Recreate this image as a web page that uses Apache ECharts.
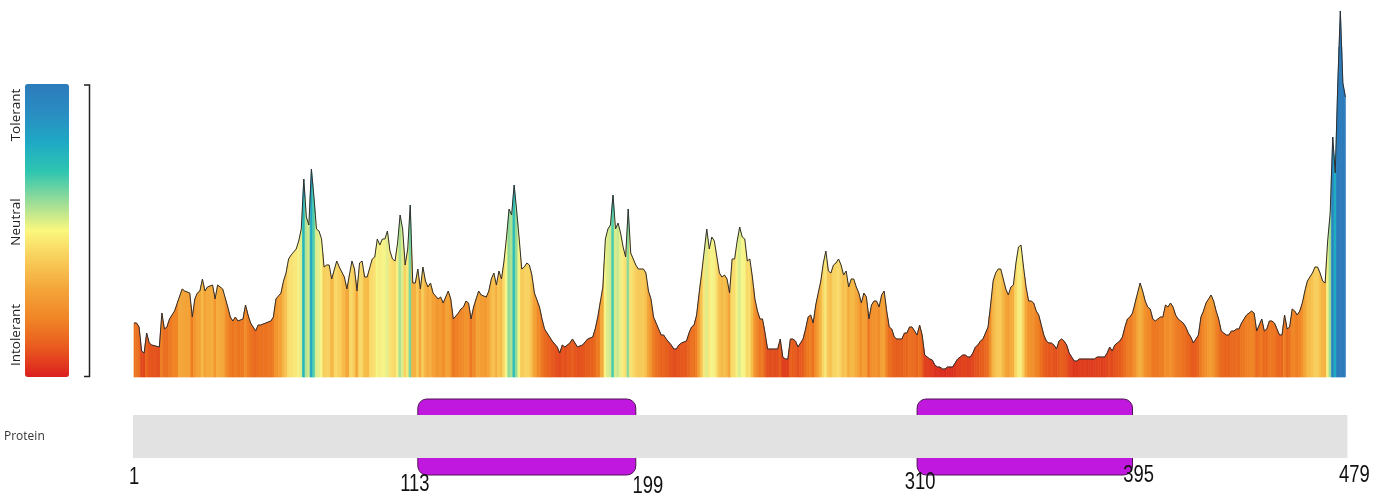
<!DOCTYPE html>
<html><head><meta charset="utf-8">
<script src="https://cdn.jsdelivr.net/npm/echarts@6/dist/echarts.min.js"></script>
<style>html,body{margin:0;padding:0;background:#fff}#c{width:1390px;height:504px}</style>
</head><body><div id="c"></div>
<script>
// ---- data ----
const residues = [1,2,3,4,5,6,7,8,11,12,13,14,15,17,20,21,23,24,25,26,27,28,29,30,32,33,34,36,38,39,40,41,42,44,45,46,47,49,50,51,53,55,56,57,59,60,61,62,63,65,66,67,68,69,70,71,72,73,74,75,76,77,78,79,81,82,84,85,87,88,89,90,91,92,93,95,96,97,98,99,100,101,102,103,104,105,106,107,108,109,110,111,112,113,114,115,116,117,118,119,121,122,123,125,126,127,129,130,131,132,133,134,135,137,138,140,141,142,143,144,145,146,147,148,149,150,151,152,153,154,155,156,157,158,159,161,162,163,165,166,168,169,170,171,173,174,175,176,178,180,182,183,184,186,187,188,189,190,191,192,193,194,195,196,197,198,199,200,202,203,204,205,206,207,208,209,210,211,213,214,215,216,217,219,220,221,222,223,224,225,226,227,228,229,230,231,232,233,234,235,236,237,238,239,240,241,242,243,244,245,246,247,248,249,250,251,252,253,254,255,256,257,258,259,260,261,262,263,264,265,266,267,268,269,270,271,272,273,274,275,276,277,278,279,280,281,282,283,284,285,286,287,288,289,290,291,292,293,294,295,296,297,298,299,300,301,302,303,304,305,306,307,308,309,310,311,312,313,314,315,316,317,318,319,320,321,322,323,324,325,326,327,328,329,330,331,332,333,334,335,336,337,338,339,340,341,342,343,344,345,346,347,348,349,350,351,352,353,354,355,356,357,358,359,360,361,362,363,364,365,366,367,368,369,370,371,372,373,374,375,376,377,378,379,380,381,382,383,384,385,386,387,388,389,390,391,392,393,394,395,396,397,398,399,400,401,402,403,404,405,406,407,408,409,410,411,412,413,414,415,416,417,418,419,420,421,422,423,424,425,426,427,428,429,430,431,432,433,434,435,436,437,438,439,440,441,442,443,444,445,446,447,448,449,450,451,452,453,454,455,456,457,458,459,460,461,462,463,464,465,466,467,468,469,470,471,472,473,474,475,476,477,478,479];
const scores = [0.27,0.27,0.25,0.13,0.12,0.22,0.17,0.16,0.15,0.32,0.24,0.25,0.29,0.33,0.44,0.43,0.42,0.30,0.39,0.42,0.43,0.49,0.43,0.45,0.46,0.39,0.46,0.44,0.35,0.30,0.28,0.30,0.28,0.29,0.36,0.31,0.27,0.23,0.26,0.26,0.27,0.28,0.30,0.39,0.42,0.48,0.52,0.59,0.61,0.64,0.68,0.74,0.99,0.80,0.76,1.04,0.90,0.74,0.73,0.69,0.55,0.56,0.56,0.49,0.58,0.55,0.50,0.44,0.58,0.54,0.43,0.57,0.58,0.50,0.50,0.59,0.60,0.69,0.66,0.69,0.69,0.73,0.63,0.59,0.58,0.67,0.81,0.74,0.56,0.64,0.86,0.47,0.47,0.54,0.44,0.55,0.48,0.45,0.47,0.42,0.39,0.40,0.37,0.43,0.39,0.29,0.32,0.34,0.35,0.38,0.37,0.29,0.35,0.43,0.41,0.40,0.43,0.49,0.52,0.46,0.53,0.49,0.58,0.70,0.84,0.81,0.96,0.83,0.69,0.54,0.55,0.57,0.56,0.51,0.42,0.35,0.29,0.24,0.20,0.18,0.15,0.12,0.16,0.15,0.17,0.19,0.17,0.15,0.16,0.19,0.20,0.24,0.30,0.45,0.69,0.74,0.76,0.91,0.74,0.77,0.72,0.65,0.60,0.84,0.62,0.59,0.56,0.54,0.54,0.52,0.43,0.39,0.30,0.27,0.24,0.21,0.21,0.19,0.16,0.14,0.14,0.16,0.17,0.18,0.22,0.25,0.26,0.31,0.42,0.52,0.63,0.74,0.64,0.70,0.68,0.60,0.52,0.50,0.51,0.49,0.42,0.59,0.59,0.68,0.75,0.70,0.69,0.58,0.59,0.50,0.39,0.33,0.29,0.29,0.22,0.14,0.14,0.14,0.14,0.14,0.19,0.10,0.09,0.09,0.19,0.19,0.18,0.15,0.17,0.19,0.24,0.30,0.31,0.27,0.36,0.42,0.48,0.57,0.63,0.53,0.52,0.56,0.57,0.59,0.56,0.51,0.53,0.45,0.49,0.49,0.45,0.42,0.37,0.42,0.40,0.29,0.36,0.38,0.38,0.35,0.41,0.43,0.33,0.25,0.24,0.20,0.19,0.19,0.19,0.22,0.22,0.25,0.25,0.23,0.21,0.26,0.21,0.11,0.10,0.09,0.085,0.06,0.05,0.05,0.04,0.04,0.05,0.05,0.05,0.07,0.09,0.10,0.11,0.11,0.10,0.10,0.12,0.15,0.16,0.18,0.19,0.22,0.25,0.36,0.48,0.52,0.54,0.54,0.49,0.44,0.41,0.45,0.46,0.57,0.65,0.66,0.55,0.45,0.38,0.38,0.37,0.33,0.31,0.26,0.21,0.18,0.17,0.17,0.16,0.14,0.18,0.19,0.18,0.16,0.12,0.10,0.08,0.08,0.09,0.09,0.09,0.09,0.09,0.09,0.09,0.10,0.10,0.10,0.10,0.12,0.15,0.13,0.16,0.17,0.18,0.20,0.25,0.29,0.30,0.32,0.37,0.42,0.47,0.43,0.38,0.35,0.34,0.29,0.28,0.29,0.30,0.30,0.36,0.35,0.37,0.35,0.31,0.29,0.28,0.27,0.25,0.22,0.20,0.17,0.19,0.21,0.30,0.33,0.37,0.39,0.41,0.38,0.33,0.29,0.23,0.22,0.21,0.21,0.23,0.23,0.24,0.24,0.27,0.29,0.31,0.32,0.33,0.32,0.23,0.26,0.29,0.23,0.24,0.28,0.28,0.27,0.24,0.21,0.21,0.31,0.24,0.25,0.34,0.33,0.31,0.33,0.37,0.43,0.48,0.50,0.52,0.55,0.55,0.52,0.48,0.47,0.68,0.82,1.20,1.02,1.47,1.83,1.47,1.40];
const proteinLength = 479;
const domainStarts = [113, 310];
const domainEnds = [199, 395];
const tickResidues = [1, 113, 199, 310, 395, 479];
const tickLabels = ['1', '113', '199', '310', '395', '479'];
const legendLabels = ['Tolerant', 'Neutral', 'Intolerant'];
const trackLabel = 'Protein';

// ---- styles / layout ----
const scaleColors = ['#dc1f1f','#e95a1f','#f08526','#f4a53a','#f8cc58','#fbf77e','#98dc98','#2fc6b0','#1ea9c4','#2a8dc2','#2c7bbb'];
const stripColors = ['#d81f1f','#e0401e','#e8621d','#ee7c22','#f39a30','#f6bb48','#f9e070','#f6f58a','#b6e290','#4fcfaa','#1fb3c0','#2596c4','#2b85c0','#2c7bbb'];
const track = { barTop: 35, barBottom: 78, domTop: 19, domBottom: 95 };
const labelLayout = [{dx:0,y:98},{dx:-3,y:105},{dx:12,y:107},{dx:3,y:103},{dx:6,y:96},{dx:9,y:96}];

const chart = echarts.init(document.getElementById('c'), null, { renderer: 'canvas' });

function renderStrip(params, api) {
  const i = params.dataIndex, n = residues.length;
  const r = residues[i], v = scores[i];
  const xl = i > 0 ? (residues[i - 1] + r) / 2 : r;
  const vl = i > 0 ? (scores[i - 1] + v) / 2 : v;
  const xr = i < n - 1 ? (residues[i + 1] + r) / 2 : r;
  const vr = i < n - 1 ? (scores[i + 1] + v) / 2 : v;
  const pts = [[xl, 0], [xl, vl], [r, v], [xr, vr], [xr, 0]].map(p => api.coord(p));
  const c = api.visual('color');
  return { type: 'polygon', shape: { points: pts }, style: { fill: c, stroke: c, lineWidth: 0.7 } };
}

const labelFont = '23px "Liberation Sans", Arial, sans-serif';

const option = {
  animation: false,
  grid: [
    { left: 134, right: 44.6, top: 0, height: 377 },
    { left: 134, right: 44.6, top: 380, height: 124 }
  ],
  xAxis: [
    { gridIndex: 0, type: 'value', min: 1, max: proteinLength, show: false },
    { gridIndex: 1, type: 'value', min: 1, max: proteinLength, show: false }
  ],
  yAxis: [
    { gridIndex: 0, type: 'value', min: 0, max: 1.885, show: false },
    { gridIndex: 1, type: 'value', min: 0, max: 124, inverse: true, show: false }
  ],
  visualMap: [
    {
      // the drawn colour scale
      type: 'continuous', min: 0, max: 1.465, dimension: 1, seriesIndex: 5,
      left: 25, top: 84, itemWidth: 44, itemHeight: 293, padding: 0,
      calculable: false, hoverLink: false, orient: 'vertical',
      inRange: { color: scaleColors }
    },
    {
      // colouring of the landscape strips
      type: 'continuous', show: false, min: 0, max: 1.3, dimension: 1, seriesIndex: 0,
      inRange: { color: stripColors }
    }
  ],
  series: [
    {
      type: 'custom', xAxisIndex: 0, yAxisIndex: 0, renderItem: renderStrip,
      encode: { x: 0, y: 1 }, silent: true,
      data: residues.map((r, i) => [r, scores[i]]), z: 2
    },
    {
      type: 'line', xAxisIndex: 0, yAxisIndex: 0, showSymbol: false, symbol: 'none', silent: true,
      lineStyle: { color: '#2e2e2e', width: 1 }, z: 3,
      data: residues.map((r, i) => [r, scores[i]])
    },
    {
      type: 'custom', xAxisIndex: 1, yAxisIndex: 1, silent: true, z: 2,
      data: domainStarts.map((s, i) => [s, domainEnds[i]]),
      renderItem: (params, api) => {
        const a = api.coord([api.value(0), track.domTop]);
        const b = api.coord([api.value(1), track.domBottom]);
        return { type: 'rect', shape: { x: a[0], y: a[1], width: b[0] - a[0], height: b[1] - a[1], r: 9 },
          style: { fill: '#c118df', stroke: '#4d1450', lineWidth: 1 } };
      }
    },
    {
      type: 'custom', xAxisIndex: 1, yAxisIndex: 1, silent: true, z: 3,
      data: [[1, proteinLength]],
      renderItem: (params, api) => {
        const a = api.coord([api.value(0), track.barTop]);
        const b = api.coord([api.value(1), track.barBottom]);
        return { type: 'rect', shape: { x: a[0] - 1, y: a[1], width: b[0] - a[0] + 3, height: b[1] - a[1] },
          style: { fill: '#e2e2e2' } };
      }
    },
    {
      type: 'custom', xAxisIndex: 1, yAxisIndex: 1, silent: true, z: 4,
      data: tickResidues.map((r, i) => [r, i]),
      renderItem: (params, api) => {
        const i = params.dataIndex;
        const p = api.coord([api.value(0), labelLayout[i].y]);
        return { type: 'text', x: p[0] + labelLayout[i].dx, y: p[1], scaleX: 0.8,
          style: { text: tickLabels[i], fill: '#111', font: labelFont,
            textAlign: 'center', textVerticalAlign: 'middle' } };
      }
    },
    {
      // carrier for the colour-scale legend only
      type: 'custom', xAxisIndex: 0, yAxisIndex: 0, silent: true, data: [],
      renderItem: () => null
    }
  ],
  graphic: [
    { type: 'polyline', shape: { points: [[84, 85], [89.5, 85], [89.5, 376.5], [84, 376.5]] },
      style: { stroke: '#222', lineWidth: 1.5, fill: null } },
    { type: 'text', x: 4, y: 437, style: { text: trackLabel, fill: '#333', font: '12px "Open Sans", sans-serif', textVerticalAlign: 'middle' } },
    { type: 'text', x: 16, y: 115, rotation: Math.PI / 2, style: { text: legendLabels[0], fill: '#222', font: '13.5px "Open Sans", sans-serif', textAlign: 'center', textVerticalAlign: 'middle' } },
    { type: 'text', x: 16, y: 222, rotation: Math.PI / 2, style: { text: legendLabels[1], fill: '#222', font: '13.5px "Open Sans", sans-serif', textAlign: 'center', textVerticalAlign: 'middle' } },
    { type: 'text', x: 16, y: 335, rotation: Math.PI / 2, style: { text: legendLabels[2], fill: '#222', font: '13.5px "Open Sans", sans-serif', textAlign: 'center', textVerticalAlign: 'middle' } }
  ]
};
chart.setOption(option);
</script>
</body></html>
